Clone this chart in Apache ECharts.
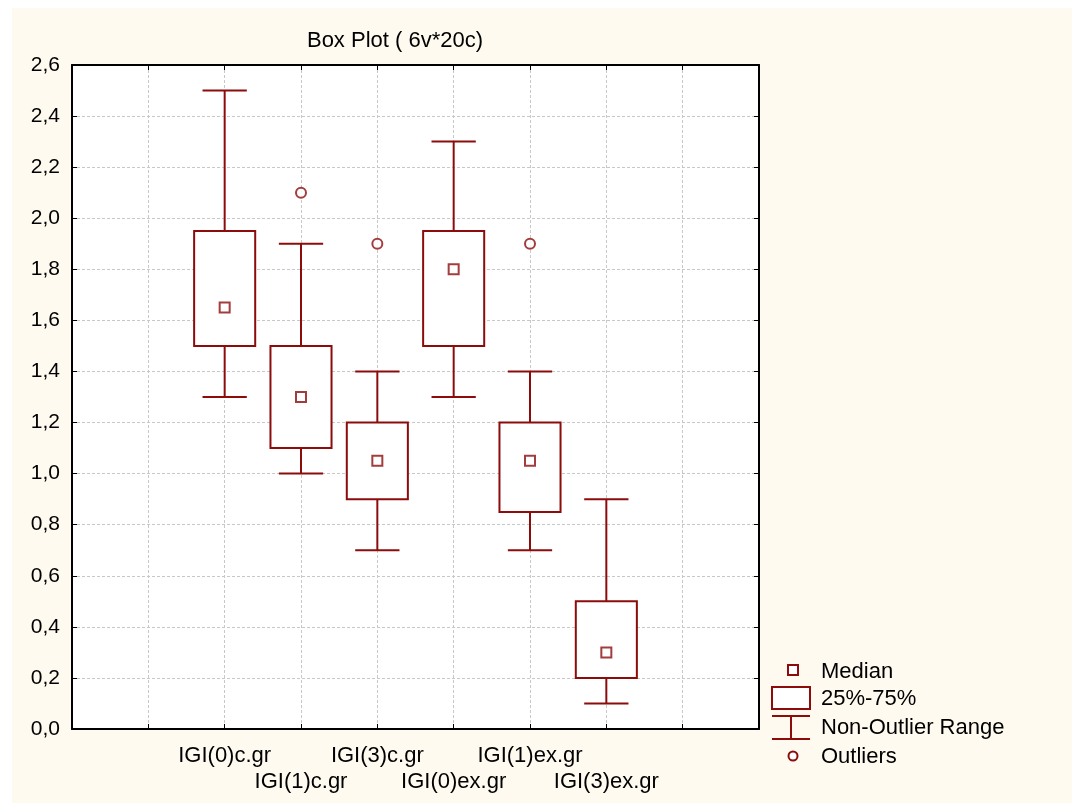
<!DOCTYPE html>
<html>
<head>
<meta charset="utf-8">
<title>Box Plot</title>
<script src="https://cdn.jsdelivr.net/npm/echarts@6/dist/echarts.min.js"></script>
<style>
html,body{margin:0;padding:0;background:#ffffff;}
#chart{position:absolute;left:12px;top:8px;width:1060px;height:795px;}
</style>
</head>
<body>
<div id="chart"></div>
<script>
// variables and their slot on the x axis
var categories = ['IGI(0)c.gr', 'IGI(1)c.gr', 'IGI(3)c.gr', 'IGI(0)ex.gr', 'IGI(1)ex.gr', 'IGI(3)ex.gr'];
var positions = [2, 3, 4, 5, 6, 7];
// box plot statistics
var lowWhisker = [1.3, 1.0, 0.7, 1.3, 0.7, 0.1];
var q1 = [1.5, 1.1, 0.9, 1.5, 0.85, 0.2];
var medians = [1.65, 1.3, 1.05, 1.8, 1.05, 0.3];
var q3 = [1.95, 1.5, 1.2, 1.95, 1.2, 0.5];
var highWhisker = [2.5, 1.9, 1.4, 2.3, 1.4, 0.9];
// outliers
var outlierPos = [3, 4, 6];
var outlierVal = [2.1, 1.9, 1.9];

var RED = '#8c0c0c';
var FONT = '"Liberation Sans", Arial, sans-serif';

var boxData = [], medianData = [], outlierData = [];
for (var i = 0; i < positions.length; i++) {
	boxData.push([positions[i], lowWhisker[i], q1[i], medians[i], q3[i], highWhisker[i]]);
	medianData.push([positions[i], medians[i]]);
}
for (var j = 0; j < outlierPos.length; j++) {
	outlierData.push([outlierPos[j], outlierVal[j]]);
}

function renderWhisker(params, api) {
	var x = api.value(0);
	var pLo = api.coord([x, api.value(1)]);
	var pQ1 = api.coord([x, api.value(2)]);
	var pQ3 = api.coord([x, api.value(4)]);
	var pHi = api.coord([x, api.value(5)]);
	var half = api.size([1, 0])[0] * 0.29;
	var st = { stroke: RED, lineWidth: 2, fill: null };
	return {
		type: 'group',
		children: [
			{ type: 'line', shape: { x1: pQ3[0], y1: pQ3[1], x2: pHi[0], y2: pHi[1] }, style: st },
			{ type: 'line', shape: { x1: pHi[0] - half, y1: pHi[1], x2: pHi[0] + half, y2: pHi[1] }, style: st },
			{ type: 'line', shape: { x1: pQ1[0], y1: pQ1[1], x2: pLo[0], y2: pLo[1] }, style: st },
			{ type: 'line', shape: { x1: pLo[0] - half, y1: pLo[1], x2: pLo[0] + half, y2: pLo[1] }, style: st }
		]
	};
}

function renderBox(params, api) {
	var x = api.value(0);
	var pQ1 = api.coord([x, api.value(2)]);
	var pQ3 = api.coord([x, api.value(4)]);
	var w = api.size([1, 0])[0] * 0.8;
	return {
		type: 'rect',
		shape: { x: pQ3[0] - w / 2, y: pQ3[1], width: w, height: pQ1[1] - pQ3[1] },
		style: { fill: '#ffffff', stroke: RED, lineWidth: 2 }
	};
}

var myChart = echarts.init(document.getElementById('chart'));

var option = {
	backgroundColor: '#fffaf0',
	animation: false,
	title: {
		text: 'Box Plot ( 6v*20c)',
		left: 378,
		top: 17,
		textAlign: 'center',
		textStyle: { fontFamily: FONT, fontSize: 22, fontWeight: 'normal', color: '#000' }
	},
	grid: { left: 60, top: 57, width: 687, height: 664, show: true, backgroundColor: '#ffffff', borderWidth: 0 },
	xAxis: [{
		type: 'value',
		min: 0,
		max: 9,
		interval: 1,
		position: 'bottom',
		axisLine: { onZero: false, lineStyle: { color: '#000', width: 2 } },
		axisTick: { inside: true, length: 5, lineStyle: { color: '#000', width: 1 } },
		axisLabel: {
			margin: 14,
			lineHeight: 26,
			fontFamily: FONT,
			fontSize: 22,
			color: '#000',
			formatter: function (v) {
				var k = positions.indexOf(v);
				if (k < 0) return '';
				return (k % 2 ? '\n' : '') + categories[k];
			}
		},
		splitLine: { show: true, lineStyle: { color: '#c8c8c8', type: [3, 2], width: 1 } }
	}, {
		type: 'value',
		min: 0,
		max: 9,
		interval: 1,
		position: 'top',
		axisLine: { onZero: false, lineStyle: { color: '#000', width: 2 } },
		axisTick: { inside: true, length: 5, lineStyle: { color: '#000', width: 1 } },
		axisLabel: { show: false },
		splitLine: { show: false }
	}],
	yAxis: [{
		type: 'value',
		min: 0,
		max: 2.6,
		interval: 0.2,
		position: 'left',
		axisLine: { show: true, onZero: false, lineStyle: { color: '#000', width: 2 } },
		axisTick: { show: true, inside: true, length: 5, lineStyle: { color: '#000', width: 1 } },
		axisLabel: {
			margin: 12,
			fontFamily: FONT,
			fontSize: 21,
			color: '#000',
			formatter: function (v) { return v.toFixed(1).replace('.', ','); }
		},
		splitLine: { show: true, lineStyle: { color: '#c8c8c8', type: [3, 2], width: 1 } }
	}, {
		type: 'value',
		min: 0,
		max: 2.6,
		interval: 0.2,
		position: 'right',
		axisLine: { show: true, onZero: false, lineStyle: { color: '#000', width: 2 } },
		axisTick: { show: true, inside: true, length: 5, lineStyle: { color: '#000', width: 1 } },
		axisLabel: { show: false },
		splitLine: { show: false }
	}],
	series: [{
		name: 'Non-Outlier Range',
		type: 'custom',
		renderItem: renderWhisker,
		encode: { x: 0, y: [1, 2, 4, 5] },
		data: boxData,
		z: 2
	}, {
		name: '25%-75%',
		type: 'custom',
		renderItem: renderBox,
		encode: { x: 0, y: [2, 4] },
		data: boxData,
		z: 3
	}, {
		name: 'Median',
		type: 'scatter',
		symbol: 'rect',
		symbolSize: 10,
		itemStyle: { color: '#ffffff', borderColor: RED, borderWidth: 2 },
		data: medianData,
		z: 4
	}, {
		name: 'Outliers',
		type: 'scatter',
		symbol: 'circle',
		symbolSize: 10,
		itemStyle: { color: '#ffffff', borderColor: RED, borderWidth: 2 },
		data: outlierData,
		z: 4
	}],
	graphic: [
		// legend, drawn by hand to match the original key
		{ type: 'rect', shape: { x: 776, y: 657, width: 10, height: 10 }, style: { fill: '#fff', stroke: RED, lineWidth: 2 } },
		{ type: 'rect', shape: { x: 760, y: 679, width: 38, height: 22 }, style: { fill: '#fff', stroke: RED, lineWidth: 2 } },
		{ type: 'line', shape: { x1: 760, y1: 708, x2: 798, y2: 708 }, style: { stroke: RED, lineWidth: 2 } },
		{ type: 'line', shape: { x1: 760, y1: 731, x2: 798, y2: 731 }, style: { stroke: RED, lineWidth: 2 } },
		{ type: 'line', shape: { x1: 779, y1: 708, x2: 779, y2: 731 }, style: { stroke: RED, lineWidth: 2 } },
		{ type: 'circle', shape: { cx: 781, cy: 748, r: 4.5 }, style: { fill: '#fff', stroke: RED, lineWidth: 2 } },
		{ type: 'text', left: 809, top: 653, style: { text: 'Median', font: '22px ' + FONT, fill: '#000' } },
		{ type: 'text', left: 809, top: 680, style: { text: '25%-75%', font: '22px ' + FONT, fill: '#000' } },
		{ type: 'text', left: 809, top: 709, style: { text: 'Non-Outlier Range', font: '22px ' + FONT, fill: '#000' } },
		{ type: 'text', left: 809, top: 738, style: { text: 'Outliers', font: '22px ' + FONT, fill: '#000' } }
	]
};
myChart.setOption(option, true);
</script>
</body>
</html>
